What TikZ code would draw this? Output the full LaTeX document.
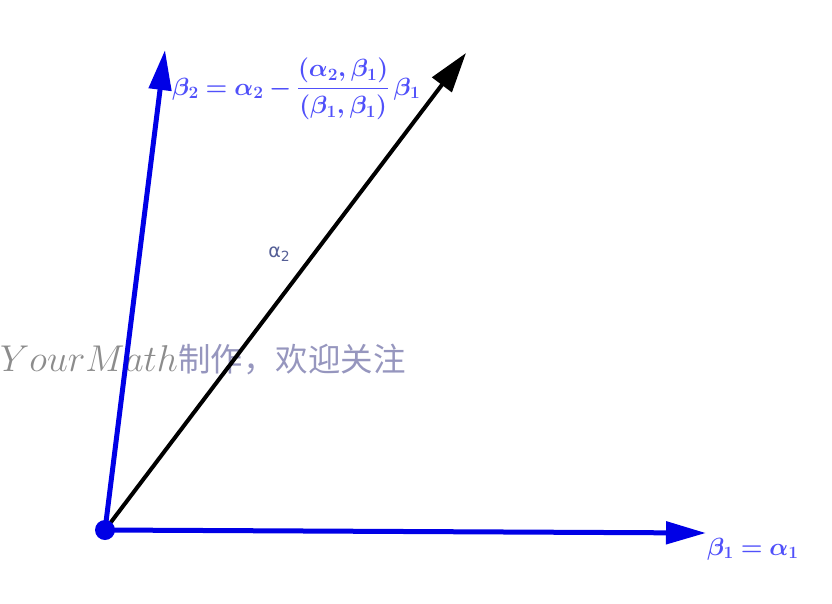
\documentclass[tikz,border=0pt]{standalone}
\usepackage{graphicx}
\usepackage{fontspec}
\usepackage{amsmath,bm}
\usetikzlibrary{arrows.meta}
\newfontfamily\cjk{Noto Sans CJK SC}
\newfontfamily\dejavu{DejaVu Sans}
\definecolor{vecblue}{RGB}{0,0,230}
\definecolor{labblue}{RGB}{80,80,250}
\definecolor{alabel}{RGB}{85,95,150}
\definecolor{wmgray}{RGB}{140,140,140}
\definecolor{wmblue}{RGB}{150,150,190}
\tikzset{
  vec/.style={line width=5pt, vecblue, -{Triangle[length=40pt,width=22pt]}},
  blackvec/.style={line width=4pt, black, -{Triangle[length=40pt,width=24pt]}},
  lab/.style={text=labblue, inner sep=0pt},
}
\begin{document}
\begin{tikzpicture}[x=1pt,y=-1pt]
\useasboundingbox (0,0) rectangle (832,603);
\coordinate (O) at (105,530);
\coordinate (B1) at (706,533);
\coordinate (B2) at (165,50);
\coordinate (A2) at (466,53);
\node[anchor=west, inner sep=0pt] (wm) at (0,360)
  {\textcolor{wmgray}{\fontsize{24.88}{28}\selectfont\scalebox{1.5}{$YourMath$}}\textcolor{wmblue}{\fontsize{32.5}{36}\selectfont\cjk 制作，欢迎关注}};
\draw[vec] (O) -- (B1);
\draw[vec] (O) -- (B2);
\draw[blackvec] (O) -- (A2);
\fill[vecblue] (O) circle (10pt);
\node[lab, anchor=west, font=\fontsize{24}{28}\selectfont] (l2) at (172,89)
  {$\boldsymbol{\beta_2=\alpha_2-\dfrac{(\alpha_2,\beta_1)}{(\beta_1,\beta_1)}\,\beta_1}$};
\node[lab, anchor=west, font=\fontsize{25}{28}\selectfont] (l1) at (707,549)
  {$\boldsymbol{\beta_1=\alpha_1}$};
\node[text=alabel, font=\fontsize{19}{22}\selectfont\dejavu] (la) at (279,254) {α\raisebox{-0.4ex}{\fontsize{14}{16}\selectfont 2}};
\end{tikzpicture}
\end{document}
